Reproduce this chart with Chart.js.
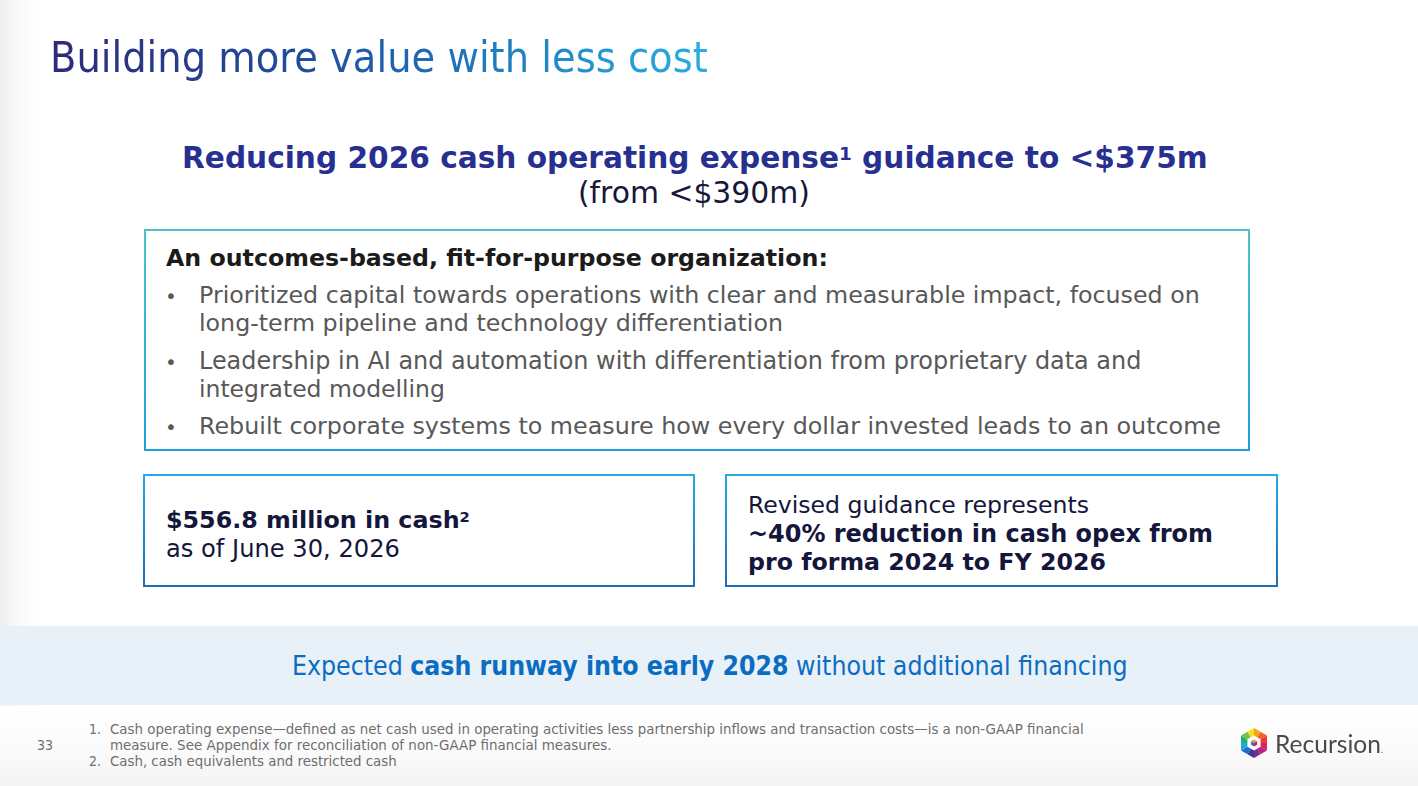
<!DOCTYPE html>
<html>
<head>
<meta charset="utf-8">
<title>Building more value with less cost</title>
<script src="https://cdn.jsdelivr.net/npm/chart.js@4"></script>
<style>
  html, body { margin: 0; padding: 0; }
  body {
    width: 1418px;
    height: 786px;
    position: relative;
    overflow: hidden;
    background: #fff;
  }
  #shadeLeft {
    position: absolute; left: 0; top: 0; width: 40px; height: 786px;
    background: linear-gradient(90deg, #ededed 0, #f8f8f8 14px, #fff 40px);
  }
  #shadeBottom {
    position: absolute; left: 0; top: 706px; width: 1418px; height: 80px;
    background: linear-gradient(180deg, #fff 0, #fafafa 60%, #f4f4f4 100%);
  }
  .ln { position: absolute; white-space: nowrap; line-height: 1.2; }
  .sup { position: relative; top: -0.42em; font-size: 0.62em; }
  .box { position: absolute; box-sizing: border-box; border: 2px solid; background: #fff; }
  .box.teal { border-image: linear-gradient(180deg, #50c2c6, #1f9fdb) 1; }
  .box.blue { border-image: linear-gradient(180deg, #27aae4, #1d6fb6) 1; }
  #banner { position: absolute; left: 0; top: 626px; width: 1418px; height: 79px; background: #e8f0f8; }
  .grad {
    background: linear-gradient(90deg, #2e2a78 0%, #1f4f9d 40%, #1f7fc3 70%, #2aaee3 100%);
    -webkit-background-clip: text; background-clip: text; color: transparent;
  }
  #logoHex {
    position: absolute; left: 1239px; top: 728px; width: 30px; height: 30px;
    clip-path: polygon(50% 0, 93.3% 25%, 93.3% 75%, 50% 100%, 6.7% 75%, 6.7% 25%);
  }
  #logoInner { position: absolute; left: 1239px; top: 728px; width: 30px; height: 30px; }
</style>
</head>
<body>
<div id="shadeLeft"></div>
<div id="shadeBottom"></div>
<div class="box teal" style="left:144px;top:229px;width:1106px;height:222px"></div>
<div class="box blue" style="left:143px;top:474px;width:552px;height:113px"></div>
<div class="box blue" style="left:725px;top:474px;width:553px;height:113px"></div>
<div id="banner"></div>
<div id="logoHex"><canvas id="logoChart" width="30" height="30"></canvas></div>
<svg id="logoInner" viewBox="-15 -15 30 30">
  <polygon points="0,-7.6 6.6,-3.8 6.6,3.8 0,7.6 -6.6,3.8 -6.6,-3.8" fill="#fff"/>
  <polygon points="0,-3.6 3.1,-1.8 0,0 -3.1,-1.8" fill="#f7931e"/>
  <polygon points="0,0 3.1,-1.8 3.1,1.8 0,3.6" fill="#d4145a"/>
  <polygon points="0,0 0,3.6 -3.1,1.8 -3.1,-1.8" fill="#2e75c9"/>
</svg>
<div id="slide"></div>

<script>
// slide texts
const titleText = "Building more value with less cost";
const headline = [
  "Reducing 2026 cash operating expense<span class=\"sup\">1</span> guidance to &lt;$375m",
  "(from &lt;$390m)",
];
const listHeading = "An outcomes-based, fit-for-purpose organization:";
const bulletLines = [
  ["Prioritized capital towards operations with clear and measurable impact, focused on",
   "long-term pipeline and technology differentiation"],
  ["Leadership in AI and automation with differentiation from proprietary data and",
   "integrated modelling"],
  ["Rebuilt corporate systems to measure how every dollar invested leads to an outcome"],
];
const cashLines = ["$556.8 million in cash<span class=\"sup\">2</span>", "as of June 30, 2026"];
const guidanceLines = [
  "Revised guidance represents",
  "~40% reduction in cash opex from",
  "pro forma 2024 to FY 2026",
];
const runwayText = "Expected <b>cash runway into early 2028</b> without additional financing";
const footnoteNums = ["1.", "2."];
const footnoteLines = [
  "Cash operating expense\u2014defined as net cash used in operating activities less partnership inflows and transaction costs\u2014is a non-GAAP financial",
  "measure. See Appendix for reconciliation of non-GAAP financial measures.",
  "Cash, cash equivalents and restricted cash",
];
const pageNumber = "33";
const brandName = "Recursion";

// logo ring slices (clockwise from top)
const logoSlices = [1, 1, 1, 1, 1, 1, 1, 1, 1, 1, 1, 1];
const logoColors = [
  "#f7a21b", "#f26522", "#ec3a3a", "#dc1f6a", "#b3237f", "#7b2b8f",
  "#3a3a9a", "#1f6fc0", "#1fa9e1", "#22b36a", "#7cc242", "#f2e21c",
];

const VER = "'DejaVu Sans', Verdana, sans-serif";
const TAH = "'DejaVu Sans Condensed', 'DejaVu Sans', Tahoma, sans-serif";

// x: left edge, w: target width, base: baseline y
const layout = [
  { html: `<span class="grad">${titleText}</span>`, x: 50, w: 658, base: 72, fs: 40, font: TAH, color: "#2e2a78" },
  { html: headline[0], x: 182, w: 1026, base: 168, fs: 30, font: VER, weight: 700, color: "#272f91" },
  { html: headline[1], x: 578, w: 232, base: 203, fs: 28, font: VER, color: "#16173b" },
  { html: listHeading, x: 166, w: 662, base: 266, fs: 22, font: VER, weight: 700, color: "#1b1b1b" },
  { html: bulletLines[0][0], x: 199, w: 1001, base: 303, fs: 22, font: VER, color: "#585858" },
  { html: bulletLines[0][1], x: 199, w: 584, base: 331, fs: 22, font: VER, color: "#585858" },
  { html: bulletLines[1][0], x: 199, w: 943, base: 369, fs: 22, font: VER, color: "#585858" },
  { html: bulletLines[1][1], x: 199, w: 246, base: 397, fs: 22, font: VER, color: "#585858" },
  { html: bulletLines[2][0], x: 199, w: 1022, base: 434, fs: 22, font: VER, color: "#585858" },
  { html: cashLines[0], x: 166, w: 304, base: 528, fs: 22, font: VER, weight: 700, color: "#14163c" },
  { html: cashLines[1], x: 166, w: 234, base: 557, fs: 22, font: VER, color: "#14163c" },
  { html: guidanceLines[0], x: 748, w: 341, base: 513, fs: 22, font: VER, color: "#14163c" },
  { html: guidanceLines[1], x: 748, w: 465, base: 542, fs: 22, font: VER, weight: 700, color: "#14163c" },
  { html: guidanceLines[2], x: 748, w: 358, base: 570, fs: 22, font: VER, weight: 700, color: "#14163c" },
  { html: runwayText, x: 292, w: 836, base: 675, fs: 24, font: TAH, color: "#0b6dc1" },
  { html: footnoteLines[0], x: 110, w: 974, base: 734, fs: 14, font: TAH, color: "#6e6e6e" },
  { html: footnoteLines[1], x: 110, w: 502, base: 750, fs: 14, font: TAH, color: "#6e6e6e" },
  { html: footnoteLines[2], x: 110, w: 287, base: 766, fs: 14, font: TAH, color: "#6e6e6e" },
  { html: brandName + "<span style=\"font-size:0.35em\">.</span>", x: 1275, w: 108, base: 753, fs: 24, font: "Lato, 'Open Sans', sans-serif", color: "#4a4a4a" },
];

// fixed size items, no width fitting
const fixed = [
  { html: "\u2022", x: 165, base: 303, fs: 20, font: VER, color: "#585858" },
  { html: "\u2022", x: 165, base: 369, fs: 20, font: VER, color: "#585858" },
  { html: "\u2022", x: 165, base: 434, fs: 20, font: VER, color: "#585858" },
  { html: footnoteNums[0], x: 89, base: 734, fs: 14, font: TAH, color: "#6e6e6e" },
  { html: footnoteNums[1], x: 89, base: 766, fs: 14, font: TAH, color: "#6e6e6e" },
  { html: pageNumber, x: 37, base: 750, fs: 14, font: TAH, color: "#6e6e6e" },
];

const slide = document.getElementById("slide");

function placeLine(item, fit) {
  const el = document.createElement("div");
  el.className = "ln";
  el.innerHTML = item.html;
  el.style.fontFamily = item.font;
  el.style.fontWeight = item.weight || 400;
  el.style.color = item.color;
  el.style.fontSize = item.fs + "px";
  el.style.left = item.x + "px";
  el.style.top = "0px";
  slide.appendChild(el);

  if (fit) {
    const w0 = el.getBoundingClientRect().width;
    el.style.fontSize = (item.fs * item.w / w0).toFixed(2) + "px";
  }

  // find the baseline with a zero-size inline block
  const probe = document.createElement("span");
  probe.style.cssText = "display:inline-block;width:0;height:0;vertical-align:baseline";
  el.appendChild(probe);
  el.style.top = (item.base - probe.offsetTop) + "px";
}

function drawLogo() {
  new Chart(document.getElementById("logoChart"), {
    type: "pie",
    data: {
      labels: logoColors,
      datasets: [{ data: logoSlices, backgroundColor: logoColors, borderWidth: 0 }],
    },
    options: {
      responsive: false,
      animation: false,
      events: [],
      plugins: { legend: { display: false }, tooltip: { enabled: false } },
    },
  });
}

document.fonts.ready.then(() => {
  layout.forEach((item) => placeLine(item, true));
  fixed.forEach((item) => placeLine(item, false));
  drawLogo();
});
</script>
</body>
</html>
